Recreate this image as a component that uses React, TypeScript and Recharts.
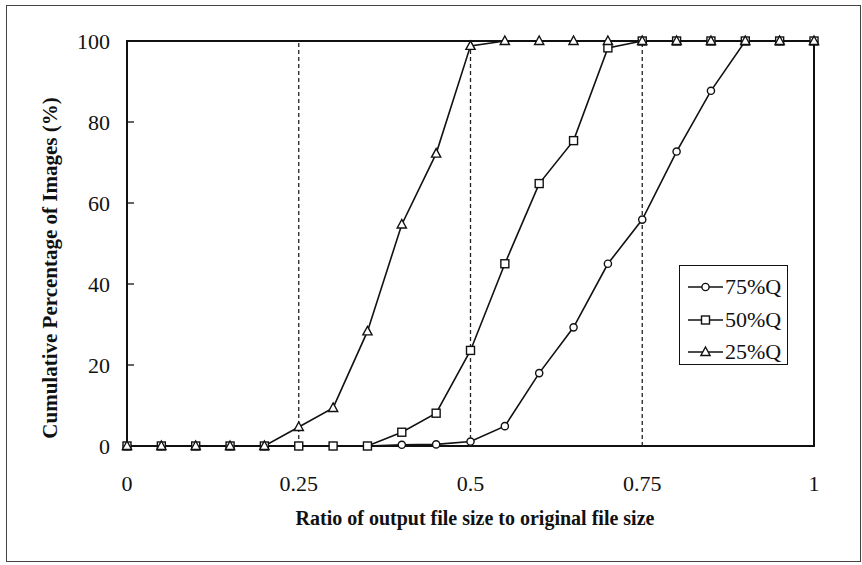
import React from 'react';
import {
  LineChart,
  Line,
  XAxis,
  YAxis,
  Legend,
  ReferenceLine,
  ReferenceArea,
} from 'recharts';

// x positions (ratio of output size to original size)
const ratio = [0, 0.05, 0.1, 0.15, 0.2, 0.25, 0.3, 0.35, 0.4, 0.45, 0.5, 0.55, 0.6, 0.65, 0.7, 0.75, 0.8, 0.85, 0.9, 0.95, 1];

// cumulative percentage of images per quality setting
const q75 = [0, 0, 0, 0, 0, 0, 0, 0, 0.3, 0.4, 1.1, 4.9, 18, 29.3, 45, 55.9, 72.7, 87.7, 100, 100, 100];
const q50 = [0, 0, 0, 0, 0, 0, 0, 0, 3.4, 8.1, 23.6, 45, 64.8, 75.4, 98.3, 100, 100, 100, 100, 100, 100];
const q25 = [0, 0, 0, 0, 0, 4.7, 9.4, 28.3, 54.7, 72.2, 98.8, 100, 100, 100, 100, 100, 100, 100, 100, 100, 100];

const seriesNames = ['75%Q', '50%Q', '25%Q'];
const xTicks = [0, 0.25, 0.5, 0.75, 1];
const yTicks = [0, 20, 40, 60, 80, 100];
const guideLines = [0.25, 0.5, 0.75];

const data = ratio.map((r, i) => ({ ratio: r, q75: q75[i], q50: q50[i], q25: q25[i] }));

const FONT = '"Liberation Serif", "Times New Roman", serif';
const INK = '#111';
const PLOT_LEFT = 127;

const circleMark = (cx: number, cy: number, key?: any) => (
  <circle key={key} cx={cx} cy={cy} r={3.6} fill="#fff" stroke={INK} strokeWidth={1.4} />
);
const squareMark = (cx: number, cy: number, key?: any) => (
  <rect key={key} x={cx - 4} y={cy - 4} width={8} height={8} fill="#fff" stroke={INK} strokeWidth={1.4} />
);
const triangleMark = (cx: number, cy: number, key?: any) => (
  <path
    key={key}
    d={`M${cx},${cy - 5} L${cx + 4.6},${cy + 3.5} L${cx - 4.6},${cy + 3.5} Z`}
    fill="#fff"
    stroke={INK}
    strokeWidth={1.4}
  />
);
const marks = [circleMark, squareMark, triangleMark];

const YTick = ({ x, y, payload }: any) => (
  <g>
    <text x={x} y={y} textAnchor="end" dominantBaseline="central" fontFamily={FONT} fontSize={22} fill={INK}>
      {payload.value}
    </text>
    {payload.value > 0 && payload.value < 100 && (
      <line x1={PLOT_LEFT} x2={PLOT_LEFT + 7} y1={y} y2={y} stroke={INK} strokeWidth={1.3} />
    )}
  </g>
);

const yLabel = () => (
  <text
    transform="translate(57,268) rotate(-90)"
    textAnchor="middle"
    fontFamily={FONT}
    fontWeight="bold"
    fontSize={21}
    fill={INK}
  >
    Cumulative Percentage of Images (%)
  </text>
);

const xLabel = () => (
  <text x={475} y={525} textAnchor="middle" fontFamily={FONT} fontWeight="bold" fontSize={20} fill={INK}>
    Ratio of output file size to original file size
  </text>
);

const renderLegend = () => (
  <div
    style={{
      width: 109,
      height: 100,
      boxSizing: 'border-box',
      border: `1.5px solid ${INK}`,
      background: '#fff',
      paddingTop: 5,
    }}
  >
    {seriesNames.map((name, i) => (
      <div key={name} style={{ display: 'flex', alignItems: 'center', height: 32.5 }}>
        <svg width={44} height={16} style={{ marginLeft: 6 }}>
          <line x1={2} x2={37} y1={8} y2={8} stroke={INK} strokeWidth={1.6} />
          {marks[i](19.5, 8)}
        </svg>
        <span style={{ fontFamily: FONT, fontSize: 22, color: INK, lineHeight: 1, marginLeft: -5 }}>{name}</span>
      </div>
    ))}
  </div>
);

const dotFor = (mark: typeof circleMark) => (props: any) => mark(props.cx, props.cy, props.index);

export default function App() {
  return (
    <div style={{ position: 'absolute', left: 0, top: 0, width: 862, height: 565, background: '#fff' }}>
      <div
        style={{
          position: 'absolute',
          left: 6,
          top: 5,
          width: 855,
          height: 557,
          boxSizing: 'border-box',
          border: '1.5px solid #444',
        }}
      />
      <div style={{ position: 'absolute', left: 0, top: 0 }}>
        <LineChart width={862} height={565} data={data} margin={{ top: 41, right: 48, bottom: 0, left: 0 }}>
          <XAxis
            dataKey="ratio"
            type="number"
            domain={[0, 1]}
            ticks={xTicks}
            height={119}
            axisLine={false}
            tickLine={false}
            tickSize={0}
            tickMargin={29}
            tick={{ fontFamily: FONT, fontSize: 22, fill: INK }}
            label={xLabel}
          />
          <YAxis
            type="number"
            domain={[0, 100]}
            ticks={yTicks}
            width={127}
            axisLine={false}
            tickLine={false}
            tickSize={0}
            tickMargin={17}
            tick={<YTick />}
            label={yLabel}
          />
          {guideLines.map((g) => (
            <ReferenceLine key={g} x={g} stroke="#222" strokeWidth={1.3} strokeDasharray="4 3" />
          ))}
          <ReferenceArea x1={0} x2={1} y1={0} y2={100} fill="none" stroke={INK} strokeWidth={2} />
          <Line
            type="linear"
            dataKey="q75"
            name={seriesNames[0]}
            stroke={INK}
            strokeWidth={1.6}
            dot={dotFor(circleMark)}
            activeDot={false}
            isAnimationActive={false}
          />
          <Line
            type="linear"
            dataKey="q50"
            name={seriesNames[1]}
            stroke={INK}
            strokeWidth={1.6}
            dot={dotFor(squareMark)}
            activeDot={false}
            isAnimationActive={false}
          />
          <Line
            type="linear"
            dataKey="q25"
            name={seriesNames[2]}
            stroke={INK}
            strokeWidth={1.6}
            dot={dotFor(triangleMark)}
            activeDot={false}
            isAnimationActive={false}
          />
          <Legend
            layout="vertical"
            align="center"
            verticalAlign="middle"
            content={renderLegend}
            wrapperStyle={{ position: 'absolute', left: 679, top: 265, width: 109, height: 100 }}
          />
        </LineChart>
      </div>
    </div>
  );
}
